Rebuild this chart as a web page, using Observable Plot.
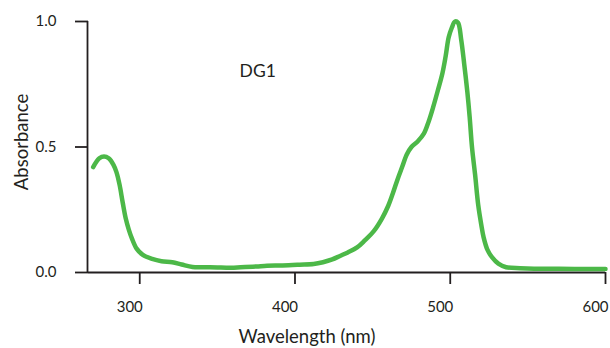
<!DOCTYPE html>
<html>
<head>
<meta charset="utf-8">
<script src="https://cdn.jsdelivr.net/npm/d3@7"></script>
<script src="https://cdn.jsdelivr.net/npm/@observablehq/plot@0.6"></script>
<style>
  html, body { margin: 0; padding: 0; background: #fff; }
  #chart svg { display: block; }
</style>
</head>
<body>
<div id="chart"></div>
<script>
const wavelength = [270, 274, 277, 280, 283, 285, 287, 289, 291, 293, 295, 298, 302, 308, 314, 321, 327, 334, 341, 350, 356, 365, 375, 382, 392, 403, 412, 418, 424, 429, 434, 440, 445, 451, 456, 460, 463, 466, 469, 472, 475, 479, 483, 486, 489, 492, 495, 497, 499, 501, 503, 505, 507, 509, 511, 512.5, 514, 516, 518, 520, 521.5, 524, 527, 531, 536, 545, 554, 570, 585, 600];
const absorbance = [0.42, 0.455, 0.462, 0.455, 0.43, 0.40, 0.35, 0.28, 0.215, 0.17, 0.135, 0.095, 0.07, 0.054, 0.045, 0.041, 0.032, 0.022, 0.021, 0.020, 0.019, 0.021, 0.024, 0.027, 0.028, 0.031, 0.034, 0.041, 0.052, 0.066, 0.080, 0.100, 0.128, 0.167, 0.215, 0.265, 0.315, 0.370, 0.420, 0.470, 0.500, 0.522, 0.553, 0.600, 0.659, 0.725, 0.795, 0.860, 0.937, 0.975, 1.0, 0.995, 0.93, 0.83, 0.72, 0.62, 0.50, 0.39, 0.27, 0.19, 0.14, 0.09, 0.06, 0.035, 0.021, 0.017, 0.015, 0.015, 0.014, 0.014];
const xTicks = [300, 400, 500, 600];
const yTicks = [0, 0.5, 1.0];
const seriesLabel = ["DG1"];
const seriesLabelX = [376];
const seriesLabelY = [0.8];
const xTitle = "Wavelength (nm)";
const yTitle = "Absorbance";

const data = wavelength.map((w, i) => ({w, a: absorbance[i]}));
const labels = seriesLabel.map((t, i) => ({t, x: seriesLabelX[i], y: seriesLabelY[i]}));
const ink = "#231f20";
const green = "#4cb848";

const chart = Plot.plot({
  width: 610,
  height: 348,
  marginLeft: 88,
  marginRight: 5,
  marginTop: 21,
  marginBottom: 76,
  style: {fontFamily: "Lato, 'Open Sans', sans-serif", color: ink, background: "#fff"},
  x: {domain: [267, 600]},
  y: {domain: [0, 1]},
  marks: [
    Plot.axisY({ticks: yTicks, tickSize: 13, tickPadding: 19, tickFormat: d3.format(".1f"), label: null, fontSize: 15, strokeWidth: 1.8, stroke: ink}),
    Plot.axisX({ticks: xTicks, tickSize: 12, tickFormat: () => "", label: null, strokeWidth: 1.8, stroke: ink}),
    Plot.axisX({ticks: xTicks, tickSize: 0, tickPadding: 29, dx: -10, label: null, fontSize: 15}),
    Plot.ruleX([267], {y1: 0, y2: 1, stroke: ink, strokeWidth: 1.8, dx: -1}),
    Plot.ruleY([0], {stroke: ink, strokeWidth: 1.8}),
    Plot.line(data, {x: "w", y: "a", stroke: green, strokeWidth: 4.5, curve: "catmull-rom"}),
    Plot.text(labels, {x: "x", y: "y", text: "t", fontSize: 17.5, fill: ink}),
    Plot.text([xTitle], {frameAnchor: "bottom", textAnchor: "middle", lineAnchor: "middle", dx: -40, dy: 65, fontSize: 18.5, fill: ink}),
    Plot.text([yTitle], {frameAnchor: "left", textAnchor: "middle", lineAnchor: "middle", rotate: -90, dx: -66, dy: -5, fontSize: 18.5, fill: ink})
  ]
});
document.getElementById("chart").appendChild(chart);
</script>
</body>
</html>
